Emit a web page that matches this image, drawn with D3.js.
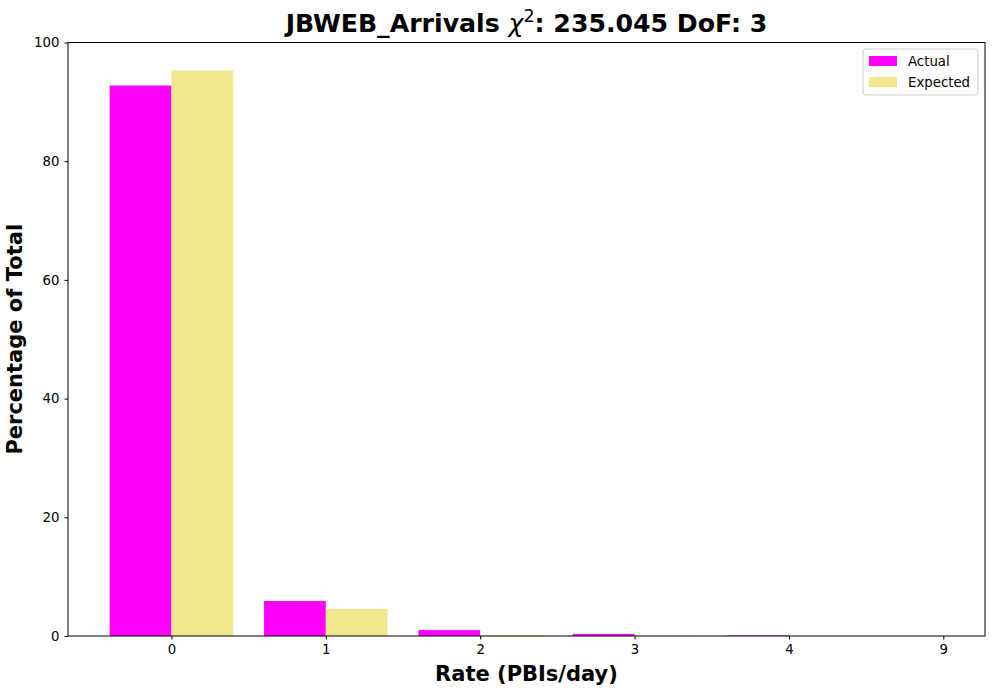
<!DOCTYPE html>
<html>
<head>
<meta charset="utf-8">
<script src="https://cdn.jsdelivr.net/npm/d3@7"></script>
<style>
  body { margin: 0; background: #fff; }
  svg { font-family: "DejaVu Sans", sans-serif; }
</style>
</head>
<body>
<svg id="chart" width="1000" height="700"></svg>
<script>
// rate categories (PBIs/day)
var categories = ["0", "1", "2", "3", "4", "9"];
// percentage of total
var actualValues = [92.75, 5.9, 1.0, 0.35, 0.1, 0];
var expectedValues = [95.3, 4.55, 0.12, 0.01, 0.0, null];
var yTicks = [0, 20, 40, 60, 80, 100];

var svg = d3.select("#chart");
var margin = {left: 68, right: 985, top: 42.5, bottom: 636};

// bars sit at index-0.4 .. index and index .. index+0.4, with 5% padding
var x = d3.scaleLinear().domain([-0.67, 5.27]).range([margin.left, margin.right]);
var y = d3.scaleLinear().domain([0, 100]).range([margin.bottom, margin.top]);
var barW = x(0.4) - x(0);

// bars
svg.append("g").selectAll("rect")
    .data(actualValues)
    .enter().append("rect")
        .attr("x", function(d, i) { return x(i - 0.4); })
        .attr("y", function(d) { return y(d); })
        .attr("width", barW)
        .attr("height", function(d) { return y(0) - y(d); })
        .attr("fill", "#ff00ff");

svg.append("g").selectAll("rect")
    .data(expectedValues.filter(function(d) { return d !== null; }))
    .enter().append("rect")
        .attr("x", function(d, i) { return x(i); })
        .attr("y", function(d) { return y(d); })
        .attr("width", barW)
        .attr("height", function(d) { return y(0) - y(d); })
        .attr("fill", "#f0e68c");

// axes
var xAxis = d3.axisBottom(x)
    .tickValues(d3.range(categories.length))
    .tickFormat(function(i) { return categories[i]; })
    .tickSize(3.5).tickPadding(5);
var yAxis = d3.axisLeft(y).tickValues(yTicks).tickSize(3.5).tickPadding(5);

var gx = svg.append("g").attr("transform", "translate(0," + margin.bottom + ")").call(xAxis);
var gy = svg.append("g").attr("transform", "translate(" + margin.left + ",0)").call(yAxis);
[gx, gy].forEach(function(g) {
    g.select(".domain").remove();
    g.selectAll("text").attr("font-size", 13.3).attr("fill", "#000")
        .attr("font-family", "DejaVu Sans, sans-serif");
    g.selectAll("line").attr("stroke", "#000").attr("stroke-width", 1);
});

// frame
svg.append("rect")
    .attr("x", margin.left).attr("y", margin.top)
    .attr("width", margin.right - margin.left)
    .attr("height", margin.bottom - margin.top)
    .attr("fill", "none").attr("stroke", "#000").attr("stroke-width", 1);

// title
var title = svg.append("text")
    .attr("x", (margin.left + margin.right) / 2).attr("y", 32)
    .attr("text-anchor", "middle")
    .attr("font-size", 25.2).attr("font-weight", "bold");
title.append("tspan").text("JBWEB_Arrivals ");
title.append("tspan").attr("font-style", "italic").attr("font-weight", "normal")
    .text("χ");
title.append("tspan").attr("font-size", 17.5).attr("font-weight", "normal")
    .attr("dy", -10).text("2");
title.append("tspan").attr("dy", 10).text(": 235.045 DoF: 3");

// axis labels
svg.append("text")
    .attr("x", (margin.left + margin.right) / 2).attr("y", 681)
    .attr("text-anchor", "middle")
    .attr("font-size", 21).attr("font-weight", "bold")
    .text("Rate (PBIs/day)");

svg.append("text")
    .attr("transform", "translate(22," + (margin.top + margin.bottom) / 2 + ") rotate(-90)")
    .attr("text-anchor", "middle")
    .attr("font-size", 21).attr("font-weight", "bold")
    .text("Percentage of Total");

// legend
var legend = svg.append("g").attr("transform", "translate(863,49)");
legend.append("rect")
    .attr("width", 115).attr("height", 46).attr("rx", 3)
    .attr("fill", "#fff").attr("fill-opacity", 0.8)
    .attr("stroke", "#ccc");
var legendItems = [["Actual", "#ff00ff"], ["Expected", "#f0e68c"]];
legendItems.forEach(function(item, i) {
    legend.append("rect")
        .attr("x", 6).attr("y", 7 + i * 21)
        .attr("width", 28).attr("height", 10)
        .attr("fill", item[1]);
    legend.append("text")
        .attr("x", 45).attr("y", 17 + i * 21)
        .attr("font-size", 13.3)
        .text(item[0]);
});
</script>
</body>
</html>
